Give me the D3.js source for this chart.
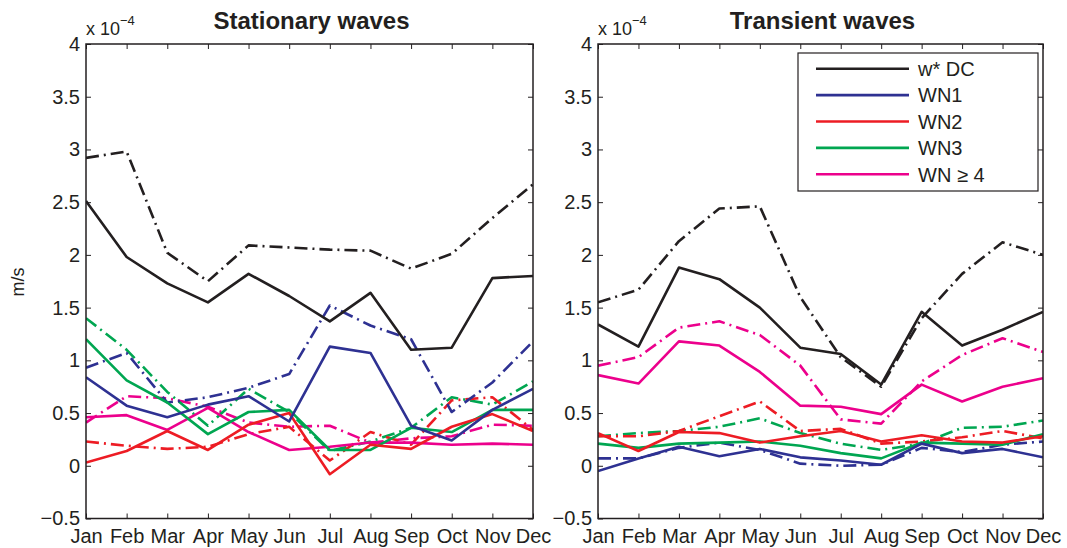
<!DOCTYPE html>
<html>
<head>
<meta charset="utf-8">
<script src="https://cdn.jsdelivr.net/npm/d3@7"></script>
<style>
  html, body { margin: 0; padding: 0; background: #fff; }
  svg { display: block; font-family: "Liberation Sans", Arial, Helvetica, sans-serif; }
</style>
</head>
<body>
<svg id="chart" width="1067" height="548"></svg>
<script>
// Monthly vertical velocity (units of 1e-4 m/s), stationary vs transient waves
const months = ["Jan", "Feb", "Mar", "Apr", "May", "Jun", "Jul", "Aug", "Sep", "Oct", "Nov", "Dec"];
const yTicks = [-0.5, 0, 0.5, 1, 1.5, 2, 2.5, 3, 3.5, 4];

// Stationary waves: solid lines
const statDC  = [2.51, 1.98, 1.73, 1.55, 1.82, 1.61, 1.37, 1.64, 1.10, 1.12, 1.78, 1.80];
const statWN1 = [0.84, 0.57, 0.46, 0.58, 0.66, 0.42, 1.13, 1.07, 0.38, 0.24, 0.53, 0.73];
const statWN2 = [0.03, 0.14, 0.33, 0.15, 0.39, 0.50, -0.08, 0.20, 0.16, 0.37, 0.49, 0.33];
const statWN3 = [1.20, 0.81, 0.60, 0.30, 0.51, 0.53, 0.15, 0.15, 0.36, 0.32, 0.53, 0.53];
const statWN4 = [0.46, 0.48, 0.34, 0.55, 0.32, 0.15, 0.18, 0.22, 0.22, 0.20, 0.21, 0.20];
// Stationary waves: dash-dot lines
const statDCalt  = [2.92, 2.98, 2.02, 1.75, 2.09, 2.07, 2.05, 2.04, 1.87, 2.01, 2.35, 2.67];
const statWN1alt = [0.93, 1.07, 0.60, 0.65, 0.74, 0.87, 1.52, 1.33, 1.20, 0.51, 0.79, 1.18];
const statWN2alt = [0.23, 0.19, 0.16, 0.18, 0.30, 0.37, 0.05, 0.32, 0.20, 0.62, 0.65, 0.34];
const statWN3alt = [1.40, 1.10, 0.70, 0.38, 0.73, 0.51, 0.14, 0.23, 0.36, 0.65, 0.58, 0.80];
const statWN4alt = [0.41, 0.66, 0.64, 0.56, 0.41, 0.37, 0.38, 0.22, 0.26, 0.28, 0.39, 0.38];

// Transient waves: solid lines
const tranDC  = [1.34, 1.13, 1.88, 1.77, 1.50, 1.12, 1.06, 0.77, 1.46, 1.14, 1.29, 1.46];
const tranWN1 = [-0.05, 0.07, 0.18, 0.09, 0.16, 0.08, 0.05, 0.01, 0.21, 0.12, 0.16, 0.08];
const tranWN2 = [0.31, 0.14, 0.32, 0.31, 0.22, 0.28, 0.33, 0.23, 0.29, 0.23, 0.22, 0.28];
const tranWN3 = [0.21, 0.17, 0.21, 0.22, 0.23, 0.19, 0.12, 0.07, 0.22, 0.21, 0.20, 0.30];
const tranWN4 = [0.86, 0.78, 1.18, 1.14, 0.89, 0.57, 0.56, 0.49, 0.77, 0.61, 0.75, 0.83];
// Transient waves: dash-dot lines
const tranDCalt  = [1.55, 1.67, 2.13, 2.44, 2.46, 1.60, 1.03, 0.75, 1.40, 1.82, 2.12, 2.00];
const tranWN1alt = [0.07, 0.07, 0.17, 0.22, 0.15, 0.02, 0.00, 0.01, 0.17, 0.13, 0.20, 0.23];
const tranWN2alt = [0.28, 0.28, 0.33, 0.47, 0.61, 0.33, 0.35, 0.21, 0.23, 0.27, 0.33, 0.26];
const tranWN3alt = [0.28, 0.31, 0.33, 0.37, 0.45, 0.31, 0.21, 0.15, 0.21, 0.36, 0.37, 0.43];
const tranWN4alt = [0.95, 1.03, 1.31, 1.37, 1.24, 0.95, 0.44, 0.40, 0.80, 1.05, 1.21, 1.08];

const seriesNames = ["w* DC", "WN1", "WN2", "WN3", "WN \u2265 4"];
const seriesColors = ["#231f20", "#2e3192", "#ed1c24", "#00a651", "#ec008c"];

const panels = [
  { title: "Stationary waves", x0: 86, x1: 533,
    solid: [statDC, statWN1, statWN2, statWN3, statWN4],
    alt:   [statDCalt, statWN1alt, statWN2alt, statWN3alt, statWN4alt], legend: false },
  { title: "Transient waves", x0: 598, x1: 1043,
    solid: [tranDC, tranWN1, tranWN2, tranWN3, tranWN4],
    alt:   [tranDCalt, tranWN1alt, tranWN2alt, tranWN3alt, tranWN4alt], legend: true }
];

const ink = "#231f20";
const plotTop = 44, plotBottom = 518.5;
const svg = d3.select("#chart");
svg.append("rect").attr("width", 1067).attr("height", 548).attr("fill", "#fff");

const fmt = v => (v < 0 ? "\u2212" : "") + String(Math.abs(v));

panels.forEach((p, pi) => {
  const x = d3.scalePoint().domain(months).range([p.x0, p.x1]);
  const y = d3.scaleLinear().domain([-0.5, 4]).range([plotBottom, plotTop]);
  const g = svg.append("g");

  const clipId = "clip" + pi;
  g.append("clipPath").attr("id", clipId)
    .append("rect").attr("x", p.x0).attr("y", plotTop)
    .attr("width", p.x1 - p.x0).attr("height", plotBottom - plotTop);

  const line = d3.line().x((d, i) => x(months[i])).y(d => y(d));
  const lines = g.append("g").attr("clip-path", `url(#${clipId})`);

  // dash-dot variants first, solid lines over them
  [4, 3, 2, 1, 0].forEach(k => {
    lines.append("path").datum(p.alt[k])
      .attr("d", line).attr("fill", "none")
      .attr("stroke", seriesColors[k]).attr("stroke-width", 2.6)
      .attr("stroke-dasharray", "13,5,2,5")
      .attr("stroke-linejoin", "round");
  });
  [4, 3, 2, 1, 0].forEach(k => {
    lines.append("path").datum(p.solid[k])
      .attr("d", line).attr("fill", "none")
      .attr("stroke", seriesColors[k]).attr("stroke-width", 2.6)
      .attr("stroke-linejoin", "round");
  });

  // axes with inward ticks on all four sides
  const styleAxis = sel => {
    sel.select(".domain").remove();
    sel.selectAll(".tick line").attr("stroke", ink).attr("stroke-width", 1);
    sel.selectAll(".tick text").attr("fill", ink).attr("font-size", 20);
  };
  g.append("g").attr("transform", `translate(0,${plotBottom})`)
    .call(d3.axisBottom(x).tickSizeInner(-5).tickSizeOuter(0).tickPadding(10))
    .call(styleAxis);
  g.append("g").attr("transform", `translate(0,${plotTop})`)
    .call(d3.axisTop(x).tickSizeInner(-5).tickSizeOuter(0).tickFormat(""))
    .call(styleAxis);
  g.append("g").attr("transform", `translate(${p.x0},0)`)
    .call(d3.axisLeft(y).tickValues(yTicks).tickFormat(fmt).tickSizeInner(-5).tickSizeOuter(0).tickPadding(6))
    .call(styleAxis);
  g.append("g").attr("transform", `translate(${p.x1},0)`)
    .call(d3.axisRight(y).tickValues(yTicks).tickFormat("").tickSizeInner(-5).tickSizeOuter(0))
    .call(styleAxis);

  g.append("rect")
    .attr("x", p.x0).attr("y", plotTop).attr("width", p.x1 - p.x0).attr("height", plotBottom - plotTop)
    .attr("fill", "none").attr("stroke", ink).attr("stroke-width", 1.5);

  // exponent label
  const ex = g.append("text").attr("x", p.x0).attr("y", 35)
    .attr("font-size", 18).attr("fill", ink).text("x 10");
  ex.append("tspan").attr("dy", -10).attr("font-size", 13).text("\u22124");

  // title
  g.append("text").attr("x", (p.x0 + p.x1) / 2 + 2).attr("y", 29)
    .attr("text-anchor", "middle").attr("font-size", 24).attr("font-weight", "bold")
    .attr("fill", ink).text(p.title);

  if (p.legend) {
    const lg = g.append("g");
    lg.append("rect").attr("x", 798).attr("y", 53).attr("width", 240).attr("height", 138)
      .attr("fill", "#fff").attr("stroke", ink).attr("stroke-width", 1.2);
    seriesNames.forEach((name, i) => {
      const ry = 68.7 + i * 26.4;
      lg.append("line").attr("x1", 816).attr("x2", 909).attr("y1", ry).attr("y2", ry)
        .attr("stroke", seriesColors[i]).attr("stroke-width", 2.6);
      lg.append("text").attr("x", 918).attr("y", ry).attr("dy", "0.36em")
        .attr("font-size", 20).attr("fill", ink).text(name);
    });
  }
});

// shared y-axis label
svg.append("text")
  .attr("transform", "translate(24,282) rotate(-90)")
  .attr("text-anchor", "middle").attr("font-size", 18).attr("fill", ink)
  .text("m/s");
</script>
</body>
</html>
